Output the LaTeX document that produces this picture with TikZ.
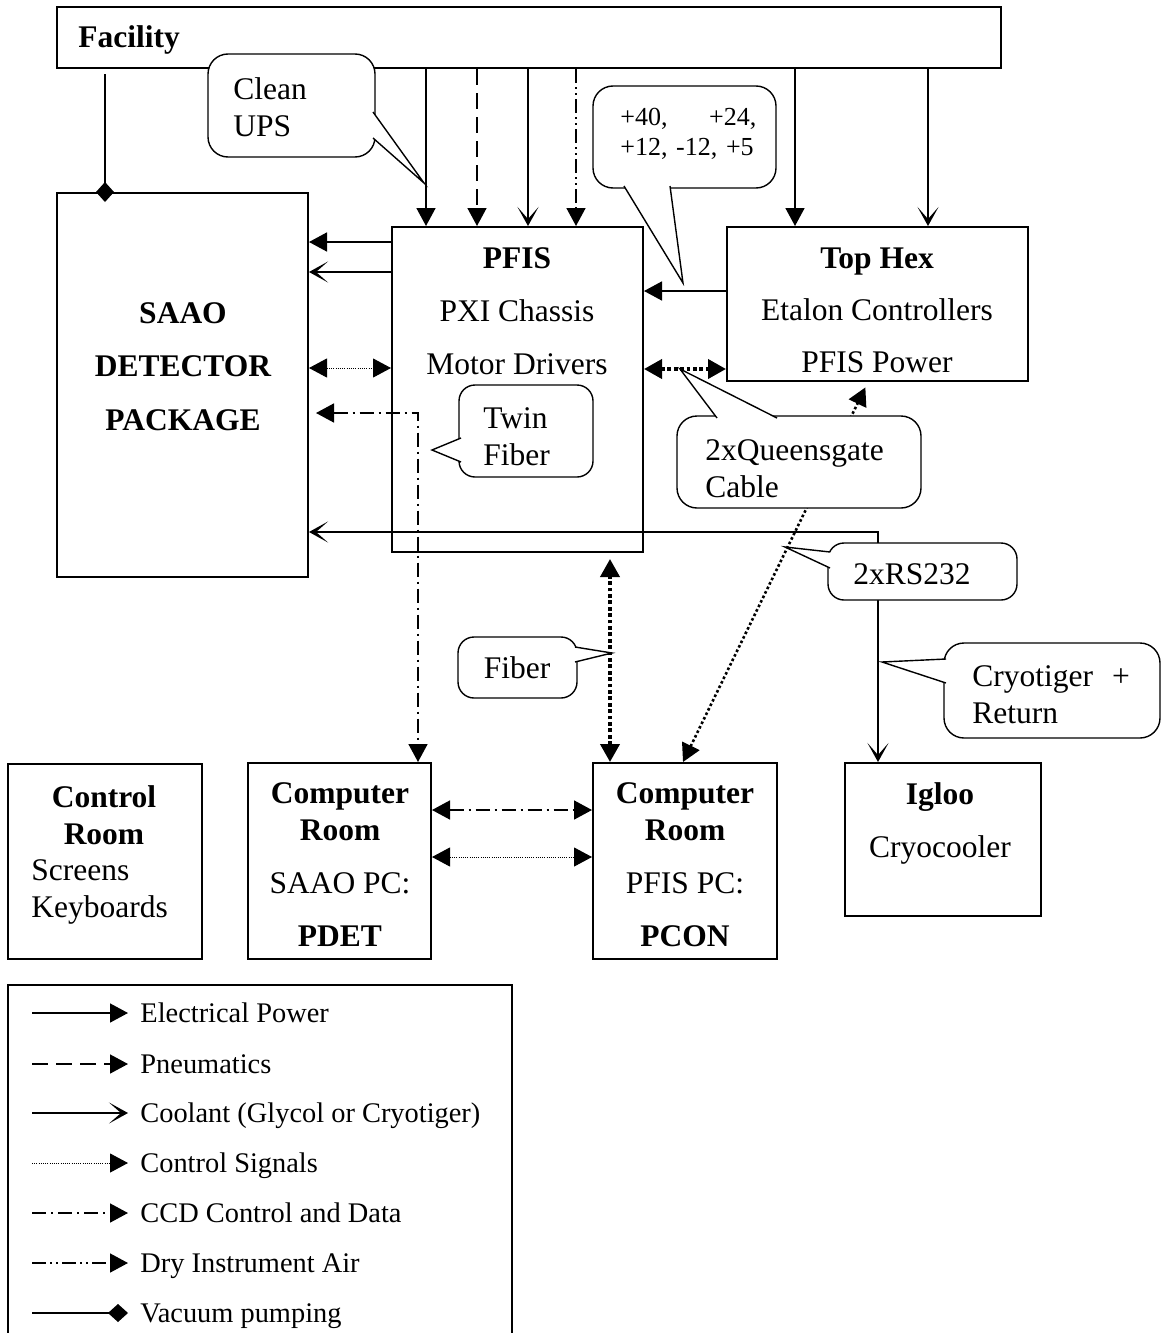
\documentclass[tikz,border=0pt]{standalone}
\usepackage{fontspec}
\setmainfont{Liberation Serif}
\usetikzlibrary{positioning, arrows.meta, calc}

\tikzset{
  tri/.tip={Triangle[length=9pt,width=9.5pt]},
  barb/.tip={Stealth[length=9.5pt,width=10.5pt,inset=6pt]},
  dia/.tip={Diamond[length=10pt,width=9pt]},
  box/.style={draw, line width=1pt, inner sep=0pt},
  txt/.style={inner sep=0pt, align=center, font=\fontsize{15.75}{18.5}\selectfont},
  btxt/.style={txt, font=\fontsize{15.75}{18.5}\selectfont\bfseries},
  legtxt/.style={inner sep=0pt, font=\fontsize{14.2}{17}\selectfont},
  bubble/.style={draw, fill=white, line width=0.7pt, rounded corners=10pt},
  elec/.style={line width=0.8pt, -{tri}},
  pneu/.style={line width=0.8pt, dash pattern=on 8pt off 4pt, -{tri}},
  cool/.style={line width=0.8pt, -{barb}},
  ctrl/.style={line width=0.5pt, dash pattern=on 0.5pt off 0.6pt, -{tri}},
  ccd/.style={line width=0.8pt, dash pattern=on 7pt off 2.5pt on 1pt off 2.5pt, -{tri}},
  dryair/.style={line width=0.8pt, dash pattern=on 7pt off 2pt on 1pt off 2pt on 1pt off 2pt, -{tri}},
  vac/.style={line width=0.8pt, -{dia}},
  fib/.style={line width=1.9pt, dash pattern=on 1.9pt off 1.3pt, {tri}-{tri}},
  qdiag/.style={line width=1.3pt, dash pattern=on 1.3pt off 1.2pt, {tri}-{tri}}
}

\begin{document}
\begin{tikzpicture}[x=0.5pt, y=-0.5pt]
  \path[use as bounding box, fill=white] (0,0) rectangle (1161,1333);

  % Boxes
  \node[box, minimum width=472pt, minimum height=30.5pt] (facility) at (529,37.5) {};
  \node[btxt, anchor=base west] (facility-t) at (78,47) {Facility};
  \node[box, minimum width=125.5pt, minimum height=192pt] (saao) at (182.5,385) {};
  \node[btxt, anchor=north] (saao-t) at (183,302) {SAAO\\[8.25pt]DETECTOR\\[8.25pt]PACKAGE};
  \node[box, minimum width=125.5pt, minimum height=162.5pt] (pfis) at (517.5,389.5) {};
  \node[txt, anchor=north] (pfis-t) at (517,247) {\textbf{PFIS}\\[8pt]PXI Chassis\\[8pt]Motor Drivers};
  \node[box, minimum width=150.5pt, minimum height=77pt] (tophex) at (877.5,304) {};
  \node[txt, anchor=north] (tophex-t) at (877,247) {\textbf{Top Hex}\\[7.5pt]Etalon Controllers\\[7.5pt]PFIS Power};
  \node[box, minimum width=97pt, minimum height=97.5pt] (ctrlroom) at (105,861.5) {};
  \node[btxt, anchor=north] (ctrlroom-t) at (104,785) {Control\\Room};
  \node[txt, anchor=north west, align=left] (ctrlroom-s) at (31,859) {Screens\\Keyboards};
  \node[box, minimum width=91.5pt, minimum height=98pt] (pdet) at (339.5,861) {};
  \node[txt, anchor=north] (pdet-t) at (340,782) {\textbf{Computer}\\\textbf{Room}\\[8pt]SAAO PC:\\[8pt]\textbf{PDET}};
  \node[box, minimum width=92pt, minimum height=98pt] (pcon) at (685,861) {};
  \node[txt, anchor=north] (pcon-t) at (685,782) {\textbf{Computer}\\\textbf{Room}\\[8pt]PFIS PC:\\[8pt]\textbf{PCON}};
  \node[box, minimum width=98pt, minimum height=76.5pt] (igloo) at (943,839.5) {};
  \node[txt, anchor=north] (igloo-t) at (940,782) {\textbf{Igloo}\\[8pt]Cryocooler};

  % Feeds from the facility
  \foreach \x/\sty in {426/elec, 477/pneu, 528/cool, 576/dryair}
    \draw[\sty] (facility.south -| \x,0) -- (pfis.north -| \x,0);
  \foreach \x/\sty in {795/elec, 928/cool}
    \draw[\sty] (facility.south -| \x,0) -- (tophex.north -| \x,0);
  \draw[vac, shorten <=2.5pt, shorten >=-5pt] (facility.south -| 105,0) -- (saao.north -| 105,0);

  % PFIS to detector package
  \draw[elec] (pfis.west |- 0,242) -- (saao.east |- 0,242);
  \draw[cool] (pfis.west |- 0,272) -- (saao.east |- 0,272);
  \draw[ctrl, {tri}-{tri}] (saao.east |- 0,368) -- (pfis.west |- 0,368);
  \coordinate (ccdjoint) at (418,413);
  \draw[ccd, {tri}-{tri}, shorten <=3.5pt] (saao.east |- ccdjoint) -- (ccdjoint) -- (pdet.north -| ccdjoint);

  % Top Hex
  \draw[elec] (tophex.west |- 0,291) -- (pfis.east |- 0,291);
  \draw[fib] (pfis.east |- 0,369) -- (tophex.west |- 0,369);
  \draw[qdiag, shorten >=3pt] (pcon.north -| 683,0) -- (tophex.south -| 868,0);

  % Coolant to the igloo
  \coordinate (rsjoint) at (878,532);
  \draw[cool, line width=1.3pt, {barb}-{barb}] (saao.east |- rsjoint) -- (rsjoint) -- (igloo.north -| rsjoint);

  % Fiber and computer rooms
  \draw[fib, shorten >=3pt] (pcon.north -| 610,0) -- (pfis.south -| 610,0);
  \draw[ccd, {tri}-{tri}] (pdet.east |- 0,810) -- (pcon.west |- 0,810);
  \draw[ctrl, {tri}-{tri}] (pdet.east |- 0,857) -- (pcon.west |- 0,857);

  % Callouts
  \draw[bubble] (208,54) rectangle (375,157);
  \draw[bubble, sharp corners] (373,112) -- (424,183) -- (373,138);
  \node[txt, anchor=north west, align=left] (ups-t) at (233,77) {Clean\\UPS};

  \draw[bubble] (593,86) rectangle (776,188);
  \draw[bubble, sharp corners] (670,186) -- (683,283) -- (624,186);
  \node[txt, anchor=north west, align=left, font=\fontsize{13}{15}\selectfont, text width=68pt] (volts-t) at (620,108) {+40,\hfill+24,\\+12, -12, +5};

  \draw[bubble, rounded corners=8pt] (459,385) rectangle (593,477);
  \draw[bubble, sharp corners] (461,462) -- (432,450) -- (461,438);
  \node[txt, anchor=north west, align=left] (twin-t) at (483,407) {Twin\\Fiber};

  \draw[bubble] (677,416) rectangle (921,508);
  \draw[bubble, sharp corners] (777,418) -- (680,369) -- (717,418);
  \node[txt, anchor=north west, align=left] (queens-t) at (705,439) {2xQueensgate\\Cable};

  \draw[bubble, rounded corners=8pt] (828,543) rectangle (1017,600);
  \draw[bubble, sharp corners] (830,552) -- (785,547) -- (830,568);
  \node[txt] (rs-t) at (912,574) {2xRS232};

  \draw[bubble] (944,643) rectangle (1160,738);
  \draw[bubble, sharp corners] (946,659) -- (882,662) -- (946,683);
  \node[txt, anchor=north west, align=left] (cryo-t) at (972,665) {Cryotiger\hspace{0.6em}+\\Return};

  \draw[bubble, rounded corners=8pt] (458,637) rectangle (577,698);
  \draw[bubble, sharp corners] (575,647) -- (612,653) -- (575,662);
  \node[txt] (fiber-t) at (517,668) {Fiber};

  % Legend
  \draw[line width=1pt] (8,1340) -- (8,985) -- (512,985) -- (512,1340);
  \foreach \y/\sty/\txt [count=\i] in {1013/elec/Electrical Power, 1064/pneu/Pneumatics,
      1113/cool/Coolant (Glycol or Cryotiger), 1163/ctrl/Control Signals,
      1213/ccd/CCD Control and Data, 1263/dryair/Dry Instrument Air, 1313/vac/Vacuum pumping} {
    \coordinate (lga\i) at (32,\y);
    \coordinate (lgb\i) at (128,\y);
    \draw[\sty] (lga\i) -- (lgb\i);
    \node[legtxt, anchor=base west] (lg\i) at (140,\y+9.5) {\txt};
  }
\end{tikzpicture}
\end{document}
